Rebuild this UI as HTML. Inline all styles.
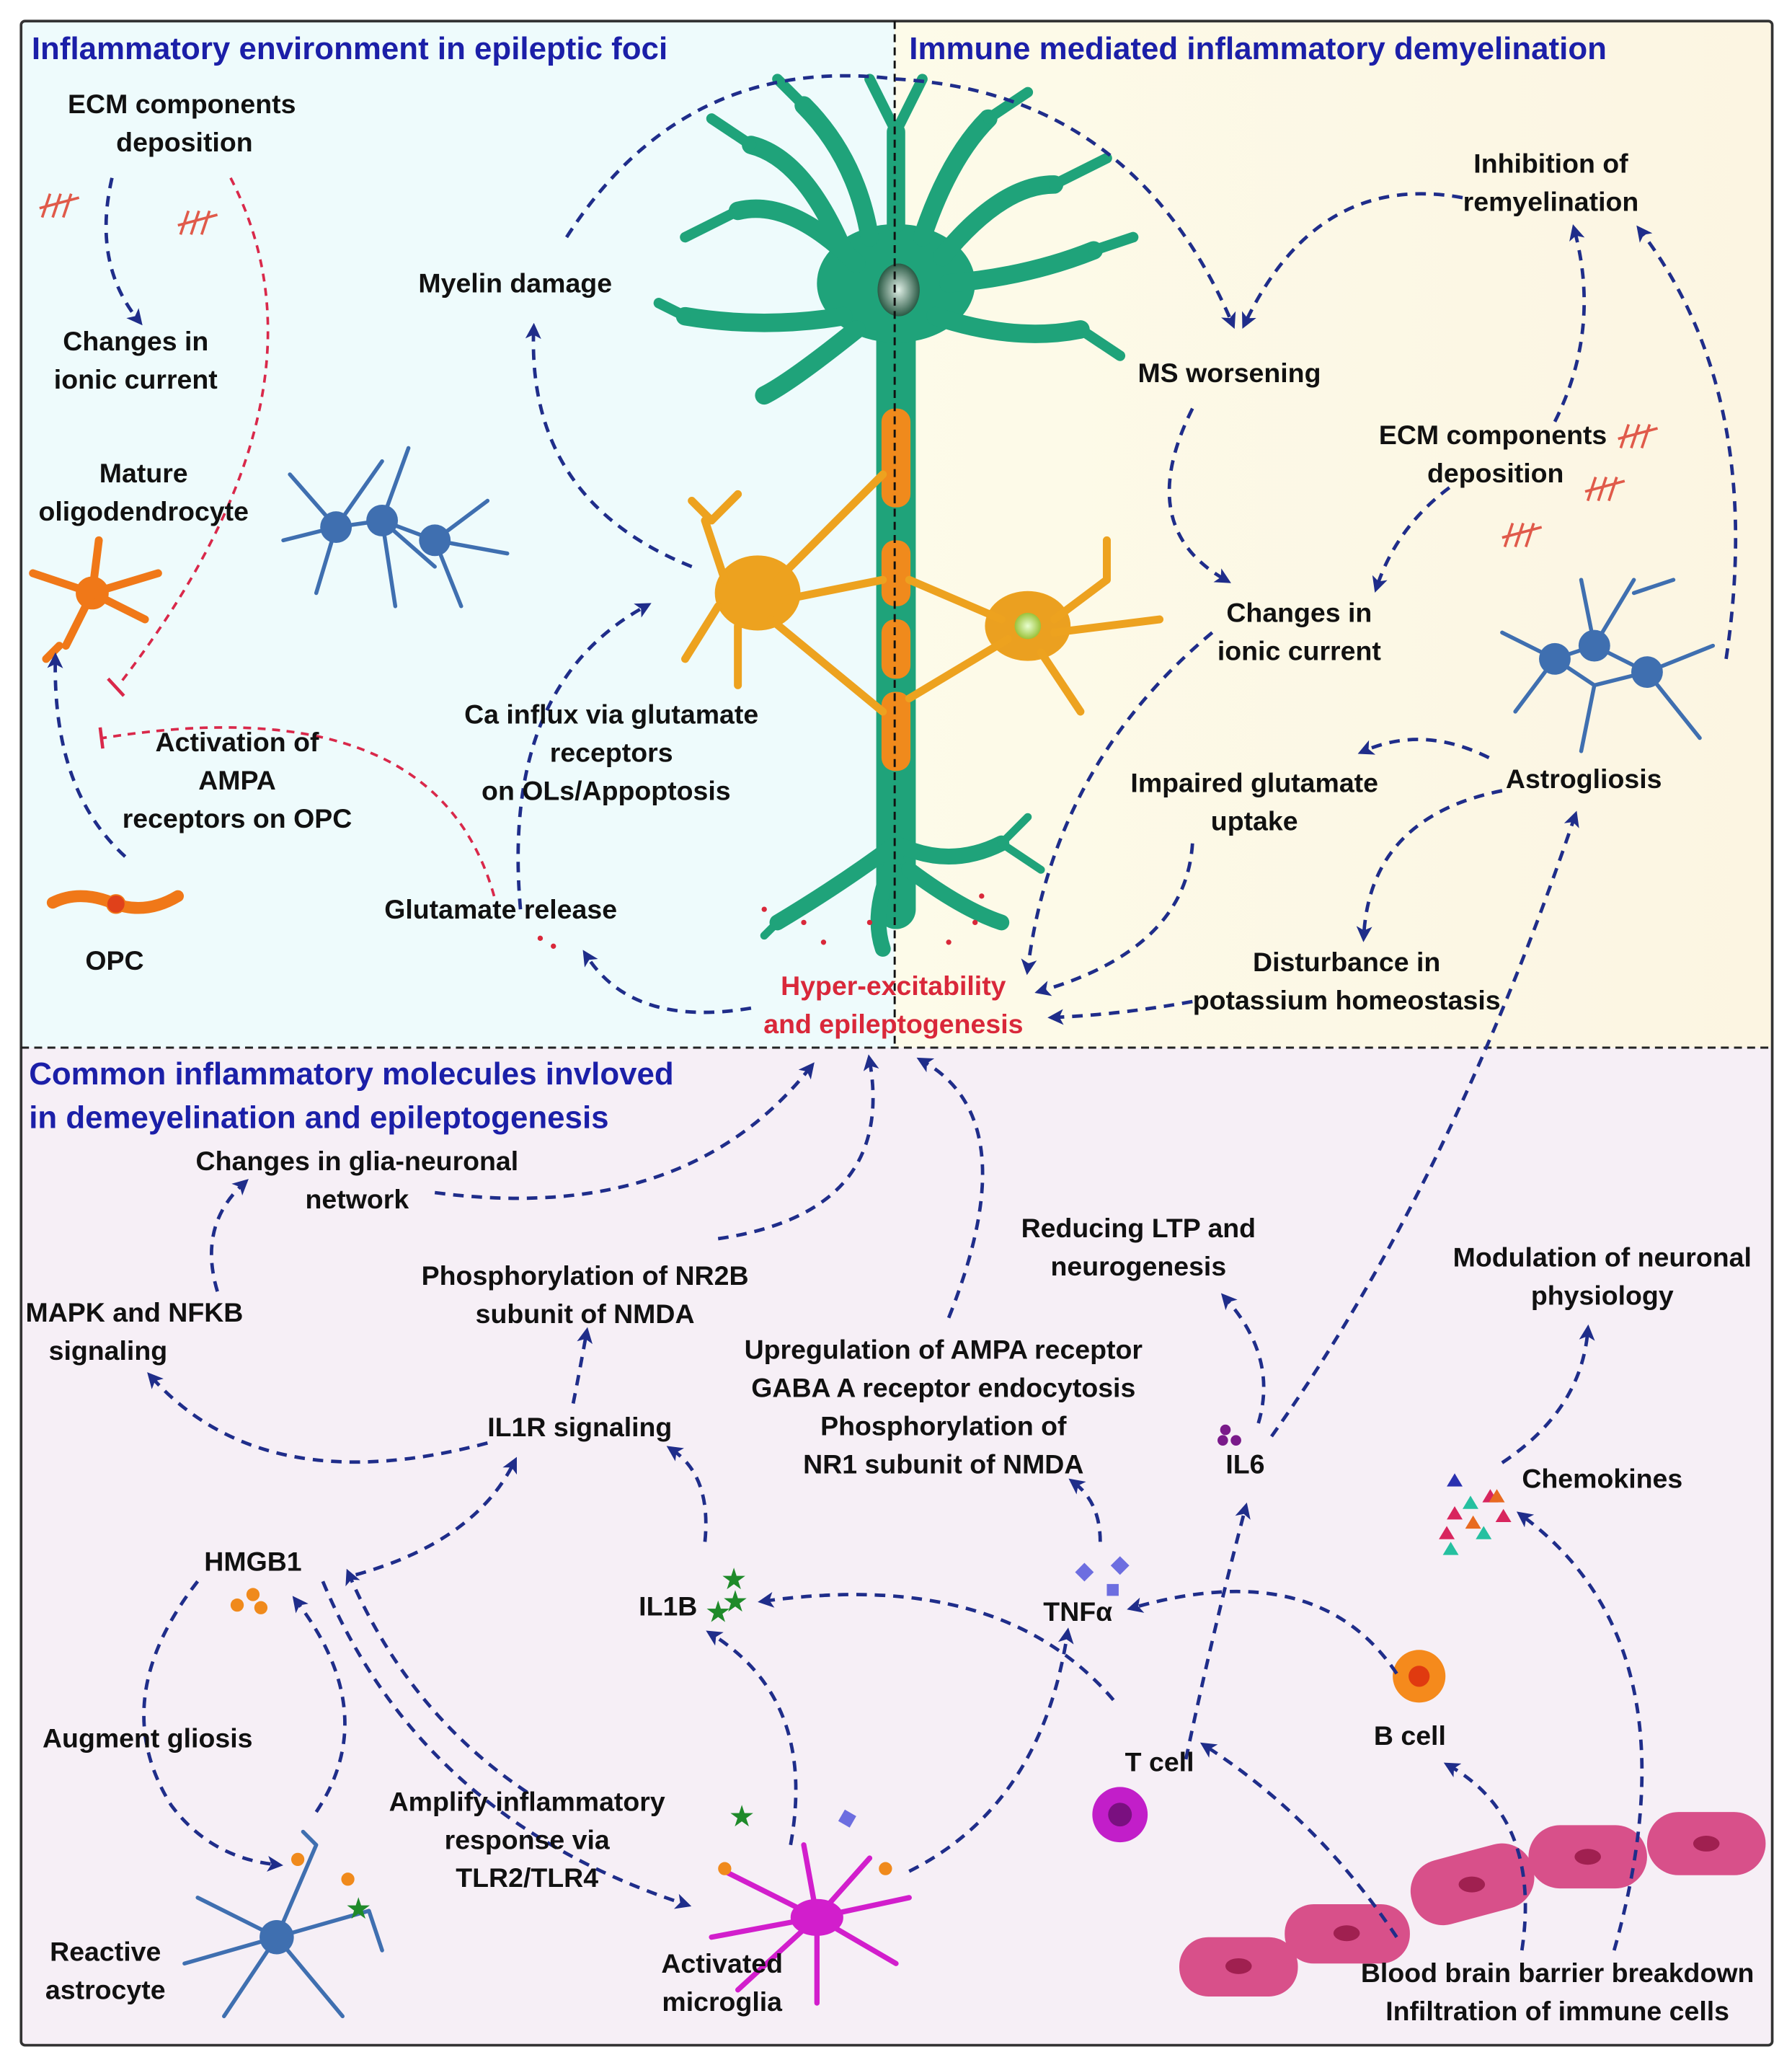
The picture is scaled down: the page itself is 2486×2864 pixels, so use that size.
<!DOCTYPE html>
<html><head><meta charset="utf-8"><style>
html,body{margin:0;padding:0;background:#fff}
svg{display:block}
text{font-family:"Liberation Sans",sans-serif;font-weight:bold;font-size:20.5px;fill:#111;text-anchor:middle}
.h{fill:#1b1fa8;font-size:24px;text-anchor:start}
.r{fill:#d9283a}
.a{fill:none;stroke:#1f2d8a;stroke-width:2.6;stroke-dasharray:8 6;marker-end:url(#ar)}
.rd{fill:none;stroke:#d9284a;stroke-width:2;stroke-dasharray:6 5}
.g{fill:none;stroke:#1fa37a;stroke-linecap:round}
.b{fill:none;stroke:#3f6fb0;stroke-width:3;stroke-linecap:round}
</style></head><body>
<svg width="2486" height="2864" viewBox="0 0 1360 1567" preserveAspectRatio="none" xmlns="http://www.w3.org/2000/svg">
<defs>
<marker id="ar" markerWidth="12" markerHeight="12" refX="7" refY="6" orient="auto" markerUnits="userSpaceOnUse" viewBox="0 0 12 12"><path d="M0,0 L12,6 L0,12 L3,6 z" fill="#1f2d8a"/></marker>
<linearGradient id="yl" x1="0" x2="1"><stop offset="0" stop-color="#fdfbe9"/><stop offset="1" stop-color="#fcf5e2"/></linearGradient>
<radialGradient id="nuc"><stop offset="0" stop-color="#dfeee5"/><stop offset="1" stop-color="#2a5a45"/></radialGradient>
<radialGradient id="oln"><stop offset="0" stop-color="#e8ffd0"/><stop offset="1" stop-color="#9bc23a"/></radialGradient>
</defs>
<rect x="0" y="0" width="1360" height="1567" fill="#fff"/>
<rect x="16" y="16" width="663" height="779" fill="#eefbfc"/>
<rect x="679" y="16" width="666" height="779" fill="url(#yl)"/>
<rect x="16" y="795" width="1329" height="757" fill="#f6eff6"/>
<rect x="16" y="16" width="1329" height="1536" fill="none" stroke="#333" stroke-width="2" rx="3"/>
<line x1="16" y1="795" x2="1345" y2="795" stroke="#222" stroke-width="1.6" stroke-dasharray="6 4"/>

<g>
<path class="g" stroke-width="30" d="M680,215 L680,690"/>
<ellipse cx="680" cy="215" rx="60" ry="45" fill="#1fa37a"/>
<path class="g" stroke-width="14" d="M650,200 Q600,150 560,160 M640,190 Q610,120 570,110 M660,180 Q650,120 610,80 M680,170 L680,100 M700,180 Q720,120 750,90 M715,195 Q760,140 800,140 M720,215 Q780,210 830,190 M710,240 Q770,260 820,250 M640,240 Q580,250 520,240 M650,250 Q600,290 580,300"/>
<path class="g" stroke-width="8" d="M560,160 L520,180 M570,110 L540,90 M610,80 L590,60 M680,100 L660,60 M680,100 L700,60 M750,90 L780,70 M800,140 L840,120 M830,190 L860,180 M520,240 L500,230 M820,250 L850,270"/>
<ellipse cx="682" cy="220" rx="16" ry="20" fill="url(#nuc)"/>
<path class="g" stroke-width="12" d="M680,640 Q640,670 590,700 M680,650 Q660,690 670,720 M680,640 Q720,660 760,640 M690,660 Q730,690 760,700"/>
<path class="g" stroke-width="6" d="M760,640 L780,620 M760,640 L790,660 M590,700 L580,710"/>
<g fill="#f08a1c"><rect x="669" y="310" width="22" height="75" rx="10"/><rect x="669" y="410" width="22" height="50" rx="10"/><rect x="669" y="470" width="22" height="45" rx="10"/><rect x="669" y="525" width="22" height="60" rx="10"/></g>
<g fill="#d9283a"><circle cx="580" cy="690" r="2"/><circle cx="610" cy="700" r="2"/><circle cx="625" cy="715" r="2"/><circle cx="720" cy="715" r="2"/><circle cx="740" cy="700" r="2"/><circle cx="745" cy="680" r="2"/><circle cx="660" cy="700" r="2"/><circle cx="410" cy="712" r="2"/><circle cx="420" cy="718" r="2"/></g>
</g>
<line x1="679" y1="16" x2="679" y2="795" stroke="#111" stroke-width="1.6" stroke-dasharray="6 4"/>
<g fill="#eda21f" stroke="#eda21f" stroke-linecap="round">
<ellipse cx="575" cy="450" rx="32" ry="28"/>
<path fill="none" stroke-width="6" d="M590,440 L670,360 M595,455 L670,440 M585,470 L670,540 M550,440 L535,395 M545,460 L520,500 M560,475 L560,520 M540,395 L525,380 M540,395 L560,375"/>
<ellipse cx="780" cy="475" rx="32" ry="26" fill="#eba020"/>
<path fill="none" stroke-width="6" d="M760,470 L690,440 M765,485 L690,530 M800,470 L840,440 M800,480 L880,470 M790,495 L820,540 M840,440 L840,410"/>
<circle cx="780" cy="475" r="10" fill="url(#oln)" stroke="none"/>
</g>
<g fill="#f07818" stroke="#f07818" stroke-linecap="round">
<circle cx="70" cy="450" r="12"/>
<path fill="none" stroke-width="6" d="M70,450 L25,435 M70,450 L50,490 M70,450 L110,470 M70,450 L120,435 M70,450 L75,410 M45,490 L35,500"/>
<path fill="none" stroke-width="9" d="M40,685 Q60,675 85,685 Q110,695 135,680"/>
<circle cx="88" cy="686" r="7" fill="#e0411a"/>
</g>
<g class="b">
<path d="M255,400 L220,360 M255,400 L215,410 M255,400 L240,450 M255,400 L290,350 M290,395 L310,340 M290,395 L330,430 M330,410 L370,380 M330,410 L385,420 M330,410 L350,460 M290,395 L300,460 M255,400 L290,395 L330,410"/>
<path d="M1180,500 L1140,480 M1180,500 L1150,540 M1210,490 L1200,440 M1210,490 L1240,440 M1250,510 L1300,490 M1250,510 L1290,560 M1210,490 L1180,500 L1210,520 L1250,510 L1210,490 M1210,520 L1200,570 M1240,450 L1270,440"/>
<path d="M210,1470 L150,1440 M210,1470 L140,1490 M210,1470 L170,1530 M210,1470 L240,1400 M210,1470 L280,1450 M210,1470 L260,1530 M240,1400 L230,1390 M280,1450 L290,1480"/>
</g>
<g fill="#3f6fb0"><circle cx="255" cy="400" r="12"/><circle cx="290" cy="395" r="12"/><circle cx="330" cy="410" r="12"/><circle cx="1180" cy="500" r="12"/><circle cx="1210" cy="490" r="12"/><circle cx="1250" cy="510" r="12"/><circle cx="210" cy="1470" r="13"/></g>
<g stroke="#d21ecc" fill="none" stroke-width="4" stroke-linecap="round">
<path d="M620,1455 L550,1420 M620,1455 L540,1470 M620,1455 L560,1510 M620,1455 L610,1400 M620,1455 L660,1410 M620,1455 L690,1440 M620,1455 L680,1490 M620,1455 L620,1520"/>
<ellipse cx="620" cy="1455" rx="18" ry="12" fill="#d21ecc"/>
</g>
<circle cx="1077" cy="1272" r="20" fill="#f58a1c"/><circle cx="1077" cy="1272" r="8" fill="#e03a10"/>
<circle cx="850" cy="1377" r="21" fill="#c21ec9"/><circle cx="850" cy="1377" r="9" fill="#7a1080"/>
<g fill="#d8508a"><rect x="895" y="1470" width="90" height="45" rx="22"/><rect x="975" y="1445" width="95" height="45" rx="22"/><rect x="1070" y="1405" width="95" height="50" rx="24" transform="rotate(-15 1117 1430)"/><rect x="1160" y="1385" width="90" height="48" rx="24"/><rect x="1250" y="1375" width="90" height="48" rx="24"/></g>
<g fill="#a02050"><ellipse cx="940" cy="1492" rx="10" ry="6"/><ellipse cx="1022" cy="1467" rx="10" ry="6"/><ellipse cx="1117" cy="1430" rx="10" ry="6"/><ellipse cx="1205" cy="1409" rx="10" ry="6"/><ellipse cx="1295" cy="1399" rx="10" ry="6"/></g>
<g fill="#f08a1c"><circle cx="180" cy="1218" r="5"/><circle cx="192" cy="1210" r="5"/><circle cx="198" cy="1220" r="5"/><circle cx="226" cy="1411" r="5"/><circle cx="264" cy="1426" r="5"/><circle cx="550" cy="1418" r="5"/><circle cx="672" cy="1418" r="5"/></g>
<g><text x="557" y="1205" style="fill:#1f8a2a;font-size:20px">★</text><text x="545" y="1230" style="fill:#1f8a2a;font-size:20px">★</text><text x="558" y="1222" style="fill:#1f8a2a;font-size:20px">★</text><text x="272" y="1455" style="fill:#1f8a2a;font-size:20px">★</text><text x="563" y="1385" style="fill:#1f8a2a;font-size:20px">★</text></g>
<g fill="#6d6ee0"><rect x="818" y="1188" width="10" height="10" transform="rotate(45 823 1193)"/><rect x="845" y="1183" width="10" height="10" transform="rotate(45 850 1188)"/><rect x="840" y="1202" width="9" height="9"/><rect x="638" y="1375" width="10" height="10" transform="rotate(30 643 1380)"/></g>
<g fill="#7a1a8a"><circle cx="930" cy="1085" r="4"/><circle cx="938" cy="1093" r="4"/><circle cx="928" cy="1093" r="4"/></g>
<g><path d="M1125,1140 l6,-10 l6,10z M1098,1153 l6,-10 l6,10z M1135,1155 l6,-10 l6,10z M1092,1168 l6,-10 l6,10z" fill="#d8255e"/><path d="M1110,1145 l6,-10 l6,10z M1120,1168 l6,-10 l6,10z M1095,1180 l6,-10 l6,10z" fill="#25c0a0"/><path d="M1130,1140 l6,-10 l6,10z M1112,1160 l6,-10 l6,10z" fill="#e86a20"/><path d="M1098,1128 l6,-10 l6,10z" fill="#2a30b0"/></g>
<g stroke="#e05a4a" stroke-width="2" fill="none"><path d="M32,165 l6,-18 M40,165 l6,-18 M48,165 l6,-18 M30,158 l30,-8 M137,178 l6,-18 M145,178 l6,-18 M153,178 l6,-18 M135,171 l30,-8 M1230,340 l6,-18 M1238,340 l6,-18 M1246,340 l6,-18 M1228,333 l30,-8 M1205,380 l6,-18 M1213,380 l6,-18 M1221,380 l6,-18 M1203,373 l30,-8 M1142,415 l6,-18 M1150,415 l6,-18 M1158,415 l6,-18 M1140,408 l30,-8"/></g>

<path class="a" d="M85,135 Q70,200 105,243"/>
<path class="rd" d="M175,135 Q260,300 90,520"/><line x1="82" y1="515" x2="94" y2="528" stroke="#d9284a" stroke-width="2.5"/>
<path class="rd" d="M375,680 Q330,520 78,560"/><line x1="76" y1="552" x2="78" y2="568" stroke="#d9284a" stroke-width="2.5"/>
<path class="a" d="M95,650 Q40,600 42,500"/>
<path class="a" d="M525,430 Q400,380 405,250"/>
<path class="a" d="M430,180 Q520,40 680,60 Q860,70 935,245"/>
<path class="a" d="M395,690 Q380,520 490,460"/>
<path class="a" d="M570,765 Q480,780 445,725"/>
<path class="a" d="M1110,150 Q1000,130 945,245"/>
<path class="a" d="M905,310 Q860,400 930,440"/>
<path class="a" d="M1180,320 Q1215,250 1195,175"/>
<path class="a" d="M1310,500 Q1340,300 1245,175"/>
<path class="a" d="M1100,370 Q1060,400 1045,445"/>
<path class="a" d="M920,480 Q800,580 780,735"/>
<path class="a" d="M905,640 Q900,720 790,752"/>
<path class="a" d="M1130,575 Q1080,550 1035,570"/>
<path class="a" d="M1140,600 Q1040,620 1035,710"/>
<path class="a" d="M905,760 Q850,770 800,772"/>
<path class="a" d="M965,1090 Q1100,900 1195,620"/>
<path class="a" d="M330,905 Q520,930 615,810"/>
<path class="a" d="M545,940 Q680,920 660,805"/>
<path class="a" d="M720,1000 Q780,850 700,805"/>
<path class="a" d="M165,980 Q150,930 185,898"/>
<path class="a" d="M435,1065 Q440,1040 445,1012"/>
<path class="a" d="M370,1095 Q200,1140 115,1045"/>
<path class="a" d="M270,1195 Q360,1170 390,1110"/>
<path class="a" d="M535,1170 Q540,1120 510,1100"/>
<path class="a" d="M835,1170 Q835,1140 815,1125"/>
<path class="a" d="M955,1080 Q970,1030 930,985"/>
<path class="a" d="M1140,1110 Q1200,1070 1205,1010"/>
<path class="a" d="M150,1200 Q80,1290 130,1370 Q160,1410 210,1415"/>
<path class="a" d="M240,1375 Q290,1300 225,1215"/>
<path class="a" d="M245,1200 Q320,1380 520,1445"/>
<path class="a" d="M400,1360 Q310,1300 265,1195"/>
<path class="a" d="M600,1400 Q620,1290 540,1240"/>
<path class="a" d="M690,1420 Q790,1370 810,1240"/>
<path class="a" d="M845,1290 Q760,1190 580,1215"/>
<path class="a" d="M1060,1270 Q1000,1180 860,1220"/>
<path class="a" d="M900,1335 Q920,1240 945,1145"/>
<path class="a" d="M1060,1470 Q1000,1380 915,1325"/>
<path class="a" d="M1155,1480 Q1170,1380 1100,1340"/>
<path class="a" d="M1225,1480 Q1290,1250 1155,1150"/>

<text class="h" x="24" y="45">Inflammatory environment in epileptic foci</text>
<text class="h" x="690" y="45">Immune mediated inflammatory demyelination</text>
<text class="h" x="22" y="823">Common inflammatory molecules invloved</text>
<text class="h" x="22" y="856">in demeyelination and epileptogenesis</text>
<text x="138" y="86">ECM components</text><text x="140" y="115">deposition</text>
<text x="103" y="266">Changes in</text><text x="103" y="295">ionic current</text>
<text x="109" y="366">Mature</text><text x="109" y="395">oligodendrocyte</text>
<text x="180" y="570">Activation of</text><text x="180" y="599">AMPA</text><text x="180" y="628">receptors on OPC</text>
<text x="87" y="736">OPC</text>
<text x="391" y="222">Myelin damage</text>
<text x="464" y="549">Ca influx via glutamate</text><text x="464" y="578">receptors</text><text x="460" y="607">on OLs/Appoptosis</text>
<text x="380" y="697">Glutamate release</text>
<text class="r" x="678" y="755">Hyper-excitability</text><text class="r" x="678" y="784">and epileptogenesis</text>
<text x="1177" y="131">Inhibition of</text><text x="1177" y="160">remyelination</text>
<text x="933" y="290">MS worsening</text>
<text x="1133" y="337">ECM components</text><text x="1135" y="366">deposition</text>
<text x="986" y="472">Changes in</text><text x="986" y="501">ionic current</text>
<text x="952" y="601">Impaired glutamate</text><text x="952" y="630">uptake</text>
<text x="1202" y="598">Astrogliosis</text>
<text x="1022" y="737">Disturbance in</text><text x="1022" y="766">potassium homeostasis</text>
<text x="271" y="888">Changes in glia-neuronal</text><text x="271" y="917">network</text>
<text x="444" y="975">Phosphorylation of NR2B</text><text x="444" y="1004">subunit of NMDA</text>
<text x="102" y="1003">MAPK and NFKB</text><text x="82" y="1032">signaling</text>
<text x="864" y="939">Reducing LTP and</text><text x="864" y="968">neurogenesis</text>
<text x="1216" y="961">Modulation of neuronal</text><text x="1216" y="990">physiology</text>
<text x="716" y="1031">Upregulation of AMPA receptor</text><text x="716" y="1060">GABA A receptor endocytosis</text><text x="716" y="1089">Phosphorylation of</text><text x="716" y="1118">NR1 subunit of NMDA</text>
<text x="440" y="1090">IL1R signaling</text>
<text x="945" y="1118">IL6</text>
<text x="1216" y="1129">Chemokines</text>
<text x="192" y="1192">HMGB1</text>
<text x="507" y="1226">IL1B</text>
<text x="818" y="1230">TNFα</text>
<text x="112" y="1326">Augment gliosis</text>
<text x="400" y="1374">Amplify inflammatory</text><text x="400" y="1403">response via</text><text x="400" y="1432">TLR2/TLR4</text>
<text x="1070" y="1324">B cell</text>
<text x="880" y="1344">T cell</text>
<text x="80" y="1488">Reactive</text><text x="80" y="1517">astrocyte</text>
<text x="548" y="1497">Activated</text><text x="548" y="1526">microglia</text>
<text x="1182" y="1504">Blood brain barrier breakdown</text><text x="1182" y="1533">Infiltration of immune cells</text>
</svg>
</body></html>
